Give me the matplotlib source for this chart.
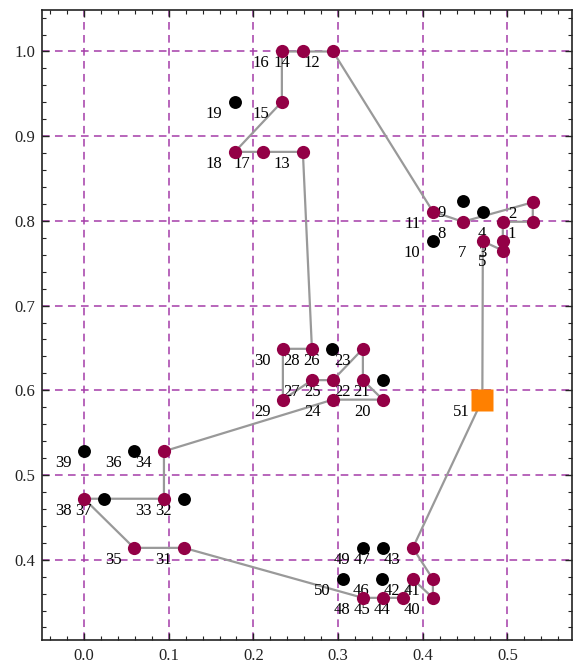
import matplotlib
matplotlib.use("Agg")
import matplotlib.pyplot as plt
from matplotlib.ticker import MultipleLocator

plt.rcParams['font.family'] = ['Liberation Serif', 'DejaVu Serif']

# point id -> (x, y)
ids = list(range(1, 51))
xs = [0.530, 0.530, 0.4946, 0.4946, 0.4946, 0.471, 0.471, 0.4474, 0.4474, 0.412,
      0.412, 0.294, 0.2584, 0.2584, 0.2336, 0.2336, 0.2112, 0.178, 0.178, 0.3529,
      0.3529, 0.3293, 0.3293, 0.2939, 0.2939, 0.2927, 0.2691, 0.2691, 0.2348, 0.2348,
      0.118, 0.118, 0.0943, 0.0943, 0.0589, 0.0589, 0.0235, 0.0, 0.0, 0.412,
      0.412, 0.3883, 0.3883, 0.3765, 0.3529, 0.3517, 0.3529, 0.3293, 0.3293, 0.3057]
ys = [0.799, 0.822, 0.776, 0.799, 0.765, 0.811, 0.776, 0.799, 0.823, 0.776,
      0.811, 1.0, 0.8815, 1.0, 0.9405, 1.0, 0.8815, 0.8815, 0.9405, 0.589,
      0.612, 0.612, 0.649, 0.589, 0.612, 0.649, 0.612, 0.649, 0.589, 0.649,
      0.414, 0.472, 0.472, 0.528, 0.414, 0.528, 0.472, 0.472, 0.528, 0.355,
      0.377, 0.377, 0.414, 0.355, 0.355, 0.377, 0.414, 0.355, 0.414, 0.377]

# depot
depot_id = 51
depot_x, depot_y = 0.4704, 0.589

# unvisited points
skipped = [6, 9, 10, 19, 21, 26, 32, 36, 37, 39, 46, 47, 49, 50]

# tour order, starting and ending at the depot
tour = [51, 7, 5, 3, 4, 1, 2, 8, 11, 12, 14, 16, 15, 18, 17, 13, 28, 30, 29, 27,
        25, 23, 22, 20, 24, 34, 33, 38, 35, 31, 48, 45, 44, 42, 40, 41, 43, 51]

pos = {i: (x, y) for i, x, y in zip(ids, xs, ys)}
pos[depot_id] = (depot_x, depot_y)

fig = plt.figure(figsize=(5.73, 6.66), dpi=100)
ax = fig.add_axes([0.0738, 0.039, 0.924, 0.946])

ax.set_xlim(-0.0494, 0.576)
ax.set_ylim(0.3052, 1.049)

for v in [0.0, 0.1, 0.2, 0.3, 0.4, 0.5]:
    ax.axvline(v, color='#a43ca8', lw=1.1, ls=(0, (5, 3.5)), zorder=1)
for v in [0.4, 0.5, 0.6, 0.7, 0.8, 0.9, 1.0]:
    ax.axhline(v, color='#a43ca8', lw=1.1, ls=(0, (5, 3.5)), zorder=1)

ax.plot([pos[i][0] for i in tour], [pos[i][1] for i in tour],
        color='#999999', lw=1.6, zorder=2)

visited = [i for i in ids if i not in skipped]
ax.plot([pos[i][0] for i in visited], [pos[i][1] for i in visited], 'o',
        color='#930046', ms=9.5, mec='none', zorder=4)
ax.plot([pos[i][0] for i in skipped], [pos[i][1] for i in skipped], 'o',
        color='black', ms=9.3, mec='none', zorder=4)
ax.plot([depot_x], [depot_y], 's', color='#ff8000', ms=15.5, mec='none', zorder=4)

for i in ids + [depot_id]:
    ax.annotate(str(i), pos[i], xytext=(-15, -8.6), textcoords='offset points',
                ha='center', va='center', fontsize=12, zorder=3)

ax.xaxis.set_major_locator(MultipleLocator(0.1))
ax.xaxis.set_minor_locator(MultipleLocator(0.02))
ax.yaxis.set_major_locator(MultipleLocator(0.1))
ax.yaxis.set_minor_locator(MultipleLocator(0.02))
ax.set_xticks([0.0, 0.1, 0.2, 0.3, 0.4, 0.5])
ax.set_xticklabels(['0.0', '0.1', '0.2', '0.3', '0.4', '0.5'])
ax.set_yticks([0.4, 0.5, 0.6, 0.7, 0.8, 0.9, 1.0])
ax.set_yticklabels(['0.4', '0.5', '0.6', '0.7', '0.8', '0.9', '1.0'])
ax.tick_params(which='both', direction='in', top=True, right=True,
               colors='#222222', labelsize=12)
ax.tick_params(which='major', length=5, width=1)
ax.tick_params(which='minor', length=3, width=0.8)
ax.tick_params(axis='x', pad=6)
ax.tick_params(axis='y', pad=5)
for s in ax.spines.values():
    s.set_color('#222222')
    s.set_linewidth(1.2)

fig.savefig("out.png", dpi=100)
